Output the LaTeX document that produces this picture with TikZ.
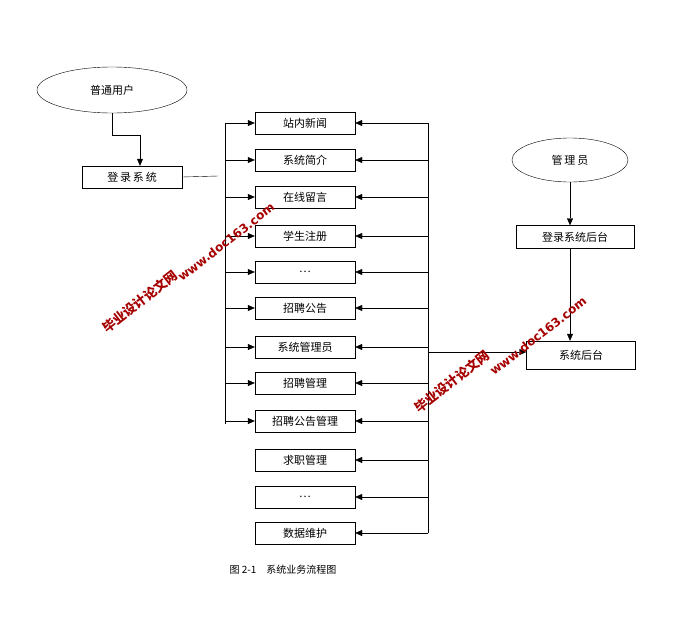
\documentclass[tikz,border=0pt]{standalone}
\usepackage{fontspec}
\setmainfont{Noto Sans CJK SC}
\newfontfamily\wmfont{DejaVu Sans}
\usetikzlibrary{arrows.meta,shapes.geometric}
\tikzset{
  box/.style={draw,minimum width=100pt,minimum height=22pt,inner sep=0pt,font=\fontsize{11}{13}\selectfont},
  user/.style={draw,ellipse,inner sep=0pt,font=\fontsize{11}{13}\selectfont},
  arr/.style={-{Triangle[length=7pt,width=6pt]}},
  wmark/.style={text=red!65!black,font=\bfseries\fontsize{13}{13}\selectfont,rotate=38}
}
\begin{document}
\begin{tikzpicture}[x=1pt,y=-1pt]
  \useasboundingbox (0,0) rectangle (696,624);
  % users
  \node[user,minimum width=150pt,minimum height=46pt] (pu) at (112,90) {普通用户};
  \node[box] (login) at (132,177) {登\,录\,系\,统};
  \node[user,minimum width=116pt,minimum height=44pt] (admin) at (570,160) {管\,理\,员};
  \node[box,minimum width=118pt,minimum height=23pt] (blogin) at (575,237) {登录系统后台};
  \node[box,minimum width=109pt,minimum height=28pt] (back) at (581,355) {系统后台};
  % modules
  \foreach \t/\y [count=\i] in {站内新闻/123,系统简介/160,在线留言/197,学生注册/236,{\dots}/272,招聘公告/308,系统管理员/347,招聘管理/383,招聘公告管理/421,求职管理/460,{\dots}/497,数据维护/533}
    \node[box] (m\i) at (305,\y) {\t};
  % left bus
  \draw (225,123) -- (225,424);
  \draw (login.east) -- (218,176);
  \foreach \i in {1,2,...,9}
    \draw[arr] (225,0 |- m\i.west) -- (m\i.west);
  % right bus
  \draw (428,123) -- (428,533);
  \foreach \i in {1,2,...,12}
    \draw[arr] (428,0 |- m\i.east) -- (m\i.east);
  \draw[arr] (428,352) -- (back.west |- 0,352);
  % admin path
  \draw[arr] (pu.south) -- (112,135) -- (140,135) -- (140,0 |- login.north);
  \draw[arr] (admin.south) -- (blogin.north -| admin.south);
  \draw[arr] (570,0 |- blogin.south) -- (570,0 |- back.north);
  \node[font=\fontsize{10}{12}\selectfont] (cap) at (283,570) {图 2-1\quad 系统业务流程图};
  % watermarks
  \node[wmark] (w1) at (140,302) {毕业设计论文网};
  \node[wmark,font=\wmfont\bfseries\fontsize{12}{12}\selectfont] (w2) at (226,242) {www.doc163.com};
  \node[wmark] (w3) at (452,382) {毕业设计论文网};
  \node[wmark,font=\wmfont\bfseries\fontsize{12}{12}\selectfont] (w4) at (538,336) {www.doc163.com};
\end{tikzpicture}
\end{document}
